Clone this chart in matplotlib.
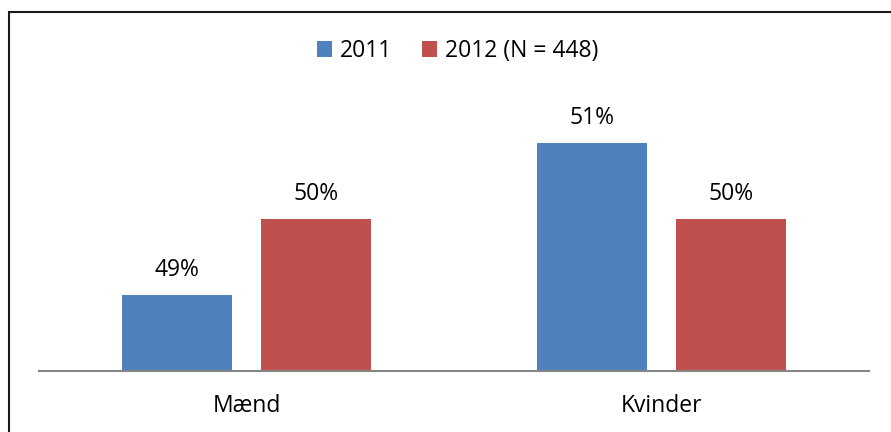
import matplotlib.pyplot as plt
from matplotlib.patches import Rectangle

categories = ["Mænd", "Kvinder"]
series_names = ["2011", "2012 (N = 448)"]
values_2011 = [0.49, 0.51]
values_2012 = [0.50, 0.50]
colors = ["#4F81BD", "#C0504D"]

plt.rcParams['font.family'] = ['Open Sans', 'DejaVu Sans']

fig = plt.figure(figsize=(8.91, 4.32), dpi=100)
ax = fig.add_axes([39 / 891, 1 - 371 / 432, (869 - 39) / 891, (371 - 67) / 432])

x = list(range(len(categories)))
width = 0.265
offset = 0.167
for k, vals in enumerate([values_2011, values_2012]):
    pos = [xi + (k * 2 - 1) * offset for xi in x]
    ax.bar(pos, vals, width, bottom=0, color=colors[k], label=series_names[k], zorder=2)
    for p, v in zip(pos, vals):
        ax.annotate(f"{round(v * 100)}%", (p, v), xytext=(0, 18), textcoords="offset points",
                    ha="center", va="center", fontsize=16.5, color="black")

ax.set_xlim(-0.5, 1.5)
ax.set_ylim(0.48, 0.52)
ax.set_yticks([])
ax.set_xticks(x)
ax.set_xticklabels(categories, fontsize=16.5)
ax.tick_params(axis="x", length=0, pad=16.5)
for s in ["top", "right", "left"]:
    ax.spines[s].set_visible(False)
ax.spines["bottom"].set_color("#868686")
ax.spines["bottom"].set_linewidth(1.5)
ax.spines["bottom"].set_zorder(3)

fig.legend(loc="center", bbox_to_anchor=(458 / 891, 1 - 51 / 432), ncol=2, frameon=False,
           fontsize=16.5, handlelength=0.65, handleheight=0.65, handletextpad=0.35, columnspacing=1.3)

fig.patches.append(Rectangle((9 / 891, -0.1), 1.0, 1 - 12 / 432 + 0.1, transform=fig.transFigure,
                             fill=False, edgecolor="#1a1a1a", linewidth=1.5, clip_on=False))

fig.savefig("out.png", dpi=100)
